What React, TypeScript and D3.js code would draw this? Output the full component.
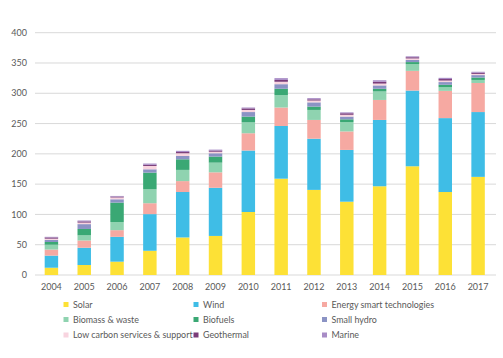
import React from "react";
import * as d3 from "d3";

const years = ["2004","2005","2006","2007","2008","2009","2010","2011","2012","2013","2014","2015","2016","2017"];
const seriesNames = ["Solar","Wind","Energy smart technologies","Biomass & waste","Biofuels","Small hydro","Low carbon services & support","Geothermal","Marine"];
const seriesColors = ["#fde136","#3fbde6","#f6a9a2","#8fd3b0","#3aa874","#8b93c4","#f8d4df","#7a3b78","#a88cc6"];

const solar = [12,16.5,22,40,62,64.5,104,159,140.5,121,146.5,179.5,137,162];
const wind = [20,28.5,41,60.5,75,79.5,101.5,87,84.5,85.5,109.5,125,122,107];
const energySmart = [10,12,11,18,18,25.5,28.5,30.5,31,30.5,33,32.5,45,48];
const biomass = [8,8.5,13.5,23,18.5,16,18,20.5,16.5,15.5,14,11,6,5];
const biofuels = [4.5,10.5,32,27.5,17.5,10,9.5,10.5,5.5,4.5,4.5,3.5,4,4];
const smallHydro = [3.5,8,5.5,5.5,5.5,5.5,7.5,7.5,7,4.5,5.5,3.5,4.5,4];
const lowCarbon = [2,2.5,3,5.5,4.5,2.5,3.5,4,3,3,3,2.5,2.5,2];
const geothermal = [2,2,1.5,2,2,2,2.5,3,2,2.5,3,2,2.5,2];
const marine = [1,1.5,1,2,2,1.5,1.5,3,2,1.5,2.5,1.5,2,1.5];
const yTicks = [0,50,100,150,200,250,300,350,400];

const seriesValues = [solar,wind,energySmart,biomass,biofuels,smallHydro,lowCarbon,geothermal,marine];

export default function App() {
  const W = 503, H = 358;
  const left = 35, right = 494.5, top = 32.7, bottom = 275;
  const x = d3.scaleBand().domain(years).range([left, right]).paddingInner(0.59).paddingOuter(0.295);
  const y = d3.scaleLinear().domain([0, 400]).range([bottom, top]);

  const rows = years.map((yr, i) => {
    const r: any = { year: yr };
    seriesNames.forEach((s, j) => (r[s] = seriesValues[j][i]));
    return r;
  });
  const stacked = d3.stack().keys(seriesNames)(rows);
  const font = "Lato, 'Open Sans', sans-serif";
  const textColor = "#595959";

  const legendCols = [66, 196, 324.5];
  const legendRows = [304.5, 319.5, 335];

  return (
    <svg width={W} height={H} style={{ position: "absolute", left: 0, top: 0, background: "#fff" }}>
      {yTicks.map((t) => (
        <g key={t}>
          <line x1={left} x2={496} y1={y(t)} y2={y(t)} stroke="#d9d9d9" strokeWidth={1} />
          <text x={27} y={y(t)} dy="0.35em" textAnchor="end" fontSize={9} fontFamily={font} fill={textColor}>{t}</text>
        </g>
      ))}
      {stacked.map((layer, j) => (
        <g key={layer.key} fill={seriesColors[j]}>
          {layer.map((d, i) => (
            <rect key={i} x={x(years[i])} width={x.bandwidth()} y={y(d[1])} height={Math.max(0, y(d[0]) - y(d[1]))} />
          ))}
        </g>
      ))}
      {years.map((yr) => (
        <text key={yr} x={(x(yr) as number) + x.bandwidth() / 2} y={287} dy="0.35em" textAnchor="middle" fontSize={9} fontFamily={font} fill={textColor}>{yr}</text>
      ))}
      {seriesNames.map((s, j) => {
        const cx = legendCols[j % 3];
        const cy = legendRows[Math.floor(j / 3)];
        return (
          <g key={s}>
            <rect x={cx - 2.5} y={cy - 2.5} width={5} height={5} fill={seriesColors[j]} />
            <text x={cx + 7} y={cy} dy="0.35em" fontSize={8.9} fontFamily={font} fill={textColor}>{s}</text>
          </g>
        );
      })}
    </svg>
  );
}
